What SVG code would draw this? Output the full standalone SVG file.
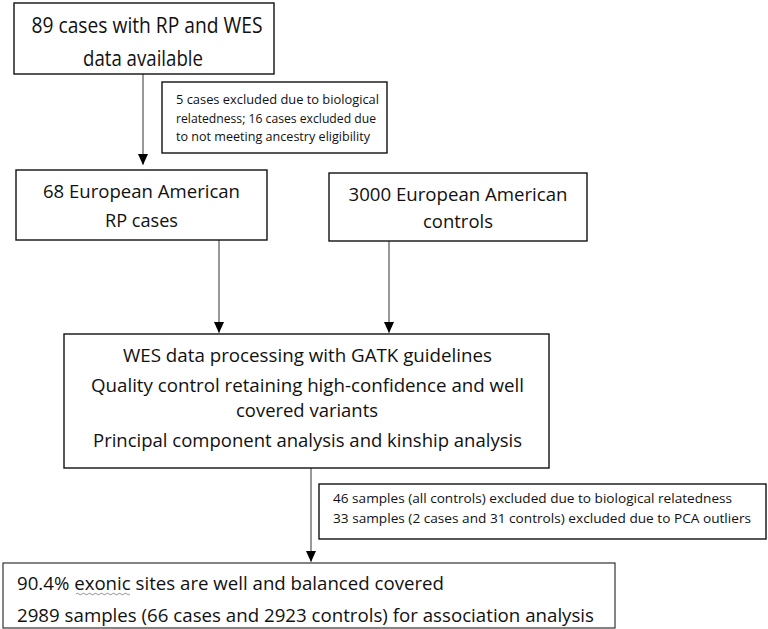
<svg xmlns="http://www.w3.org/2000/svg" width="768" height="629" viewBox="0 0 768 629">
<style>
  .box { fill: #ffffff; stroke: #111111; stroke-width: 1.4; }
  .box2 { fill: #ffffff; stroke: #333333; stroke-width: 1.2; }
  .t { font-family: "Open Sans", Lato, "Liberation Sans", sans-serif; fill: #111111; }
  .big { font-size: 21px; }
  .mid { font-size: 19px; }
  .sm { font-size: 13.5px; }
  .sm2 { font-size: 13.5px; }
  .c { text-anchor: middle; }
  .conn { stroke: #444444; stroke-width: 1.1; fill: none; }
</style>
<defs>
  <marker id="arr" markerUnits="userSpaceOnUse" markerWidth="10" markerHeight="12" refX="11" refY="5" orient="auto">
    <path d="M0,0 L11,5 L0,10 Z" fill="#000000"/>
  </marker>
</defs>
<rect width="768" height="629" fill="#ffffff"/>

<g id="connectors">
  <line class="conn" x1="143" y1="74" x2="143" y2="165" marker-end="url(#arr)"/>
  <line class="conn" x1="219" y1="240" x2="219" y2="333" marker-end="url(#arr)"/>
  <line class="conn" x1="389" y1="241" x2="389" y2="333" marker-end="url(#arr)"/>
  <line class="conn" x1="311" y1="468" x2="311" y2="562" marker-end="url(#arr)"/>
</g>

<g id="n-start">
  <rect class="box" x="14" y="3" width="260" height="71"/>
  <text class="t big c" x="147" y="33" textLength="231" lengthAdjust="spacingAndGlyphs">89 cases with RP and WES</text>
  <text class="t big c" x="143" y="66" textLength="120" lengthAdjust="spacingAndGlyphs">data available</text>
</g>

<g id="n-excl1">
  <rect class="box" x="162" y="82" width="225" height="71"/>
  <text class="t sm" x="176" y="104" textLength="203" lengthAdjust="spacingAndGlyphs">5 cases excluded due to biological</text>
  <text class="t sm" x="176" y="123" textLength="200" lengthAdjust="spacingAndGlyphs">relatedness; 16 cases excluded due</text>
  <text class="t sm" x="176" y="141" textLength="194" lengthAdjust="spacingAndGlyphs">to not meeting ancestry eligibility</text>
</g>

<g id="n-cases">
  <rect class="box" x="16" y="170" width="251" height="70"/>
  <text class="t mid c" x="141.5" y="198" textLength="197" lengthAdjust="spacingAndGlyphs">68 European American</text>
  <text class="t mid c" x="141.5" y="227" textLength="73" lengthAdjust="spacingAndGlyphs">RP cases</text>
</g>

<g id="n-controls">
  <rect class="box" x="329" y="173" width="258" height="68"/>
  <text class="t mid c" x="458" y="201" textLength="219" lengthAdjust="spacingAndGlyphs">3000 European American</text>
  <text class="t mid c" x="458" y="228" textLength="70" lengthAdjust="spacingAndGlyphs">controls</text>
</g>

<g id="n-processing">
  <rect class="box" x="64" y="334" width="485" height="134"/>
  <text class="t mid c" x="307.5" y="362" textLength="369" lengthAdjust="spacingAndGlyphs">WES data processing with GATK guidelines</text>
  <text class="t mid c" x="307.5" y="392" textLength="433" lengthAdjust="spacingAndGlyphs">Quality control retaining high-confidence and well</text>
  <text class="t mid c" x="307" y="417" textLength="142" lengthAdjust="spacingAndGlyphs">covered variants</text>
  <text class="t mid c" x="307.5" y="447" textLength="429" lengthAdjust="spacingAndGlyphs">Principal component analysis and kinship analysis</text>
</g>

<g id="n-excl2">
  <rect class="box" x="319" y="484" width="447" height="55"/>
  <text class="t sm2" x="333" y="503" textLength="399" lengthAdjust="spacingAndGlyphs">46 samples (all controls) excluded due to biological relatedness</text>
  <text class="t sm2" x="333" y="523" textLength="418" lengthAdjust="spacingAndGlyphs">33 samples (2 cases and 31 controls) excluded due to PCA outliers</text>
</g>

<g id="n-final">
  <rect class="box2" x="3" y="563" width="612" height="65"/>
  <text class="t mid" x="17" y="590" textLength="427" lengthAdjust="spacingAndGlyphs">90.4% exonic sites are well and balanced covered</text>
  <path d="M76,594 q1.5,-1.5 3,0 t3,0 t3,0 t3,0 t3,0 t3,0 t3,0 t3,0 t3,0 t3,0 t3,0 t3,0 t3,0 t3,0 t3,0 t3,0 t3,0 t3,0" fill="none" stroke="#777777" stroke-width="0.8"/>
  <text class="t mid" x="17" y="622" textLength="577" lengthAdjust="spacingAndGlyphs">2989 samples (66 cases and 2923 controls) for association analysis</text>
</g>
</svg>
